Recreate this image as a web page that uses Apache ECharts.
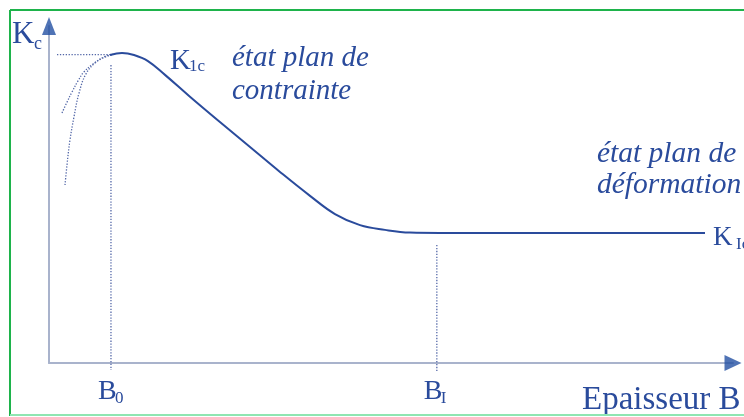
<!DOCTYPE html>
<html>
<head>
<meta charset="utf-8">
<script src="https://cdn.jsdelivr.net/npm/echarts@6/dist/echarts.min.js"></script>
<style>
  html, body { margin: 0; padding: 0; background: #ffffff; }
  #chart { width: 744px; height: 417px; }
</style>
</head>
<body>
<div id="chart"></div>
<script>
// Toughness K_c versus thickness B (arbitrary units on both axes)
const B_MAX = 100;
const K_MAX = 100;

// main solid curve: plane stress peak, decay, plane strain plateau
const bMain = [8.92, 10.67, 12.43, 14.47, 16.96, 20.61, 24.99, 29.39, 33.77, 38.16, 41.81, 45.47, 49.12, 52.78, 57.16, 62.0, 95.91];
const kMain = [91.4, 92.0, 91.4, 89.6, 85.5, 79.0, 71.5, 64.1, 56.7, 49.6, 44.2, 40.9, 39.5, 38.7, 38.6, 38.6, 38.6];

// dotted rising branches for very thin sheets
const bThinA = [1.9, 2.63, 3.36, 4.24, 5.12, 6.43, 7.89, 9.21];
const kThinA = [74.2, 77.4, 80.4, 83.7, 86.4, 88.7, 90.5, 91.5];
const bThinB = [2.34, 2.63, 3.07, 3.65, 4.39, 5.41, 6.87, 8.33, 9.36];
const kThinB = [52.8, 58.8, 66.2, 73.0, 80.1, 85.8, 89.3, 91.1, 91.7];

// reference levels
const B0 = 9.06;
const BI = 56.7;
const kPeakGuide = 91.5;
const guideB = [1.17, 9.2];
const b0Span = [88.4, -2.1];
const bISpan = [35.0, -2.7];

const tickValues = [B0, BI];
const tickSubs = ['0', 'I'];

const NAVY = '#2a4b9c';
const DOT = '#5468a8';
const SERIF = '"Liberation Serif", "DejaVu Serif", serif';

const zip = (xs, ys) => xs.map((x, i) => [x, ys[i]]);

const dotted = { color: DOT, width: 1.3, type: [1.3, 1.6] };

const chart = echarts.init(document.getElementById('chart'), null, { renderer: 'canvas' });

chart.setOption({
  animation: false,
  backgroundColor: '#ffffff',
  grid: { left: 49, right: 11, top: 26, bottom: 54, containLabel: false, outerBoundsMode: 'none' },
  xAxis: {
    type: 'value', min: 0, max: B_MAX,
    axisLine: { show: true, lineStyle: { color: '#a9b3cc', width: 2 } },
    axisTick: { show: false },
    splitLine: { show: false },
    axisLabel: { show: false }
  },
  yAxis: {
    type: 'value', min: 0, max: K_MAX,
    axisLine: { show: true, lineStyle: { color: '#a9b3cc', width: 2 } },
    axisTick: { show: false },
    splitLine: { show: false },
    axisLabel: { show: false }
  },
  series: [
    {
      type: 'line', data: zip(bMain, kMain), smooth: 0.4, symbol: 'none',
      lineStyle: { color: NAVY, width: 2 }, z: 5
    },
    {
      type: 'line', data: zip(bThinA, kThinA), smooth: 0.4, symbol: 'none',
      lineStyle: dotted
    },
    {
      type: 'line', data: zip(bThinB, kThinB), smooth: 0.4, symbol: 'none',
      lineStyle: dotted
    },
    {
      type: 'line', data: guideB.map(b => [b, kPeakGuide]), symbol: 'none',
      lineStyle: dotted
    },
    {
      type: 'line', data: b0Span.map(k => [B0, k]), symbol: 'none', clip: false,
      lineStyle: dotted
    },
    {
      type: 'line', data: bISpan.map(k => [BI, k]), symbol: 'none', clip: false,
      lineStyle: dotted
    },
    {
      // arrow heads at the axis ends
      type: 'scatter', clip: false, z: 10,
      data: [
        { value: [0, K_MAX], symbol: 'triangle', symbolSize: [14, 18], symbolRotate: 0 },
        { value: [B_MAX, 0], symbol: 'triangle', symbolSize: [16, 17], symbolRotate: -90 }
      ],
      itemStyle: { color: '#2350a3' },
      silent: true
    }
  ]
});

// Text annotations, positioned by their baseline
function txt(x, baseline, text, size, italic) {
  return {
    type: 'text', x: x, y: baseline - 0.70 * size, z: 20, silent: true,
    style: {
      text: text, fill: NAVY,
      font: (italic ? 'italic ' : '') + size + 'px ' + SERIF,
      lineHeight: size, verticalAlign: 'top'
    }
  };
}

const graphics = [
  // frame
  { type: 'line', shape: { x1: 10, y1: 10, x2: 744, y2: 10 }, style: { stroke: '#1eb34b', lineWidth: 2 }, z: 30 },
  { type: 'line', shape: { x1: 10, y1: 10, x2: 10, y2: 416 }, style: { stroke: '#1eb34b', lineWidth: 2 }, z: 30 },
  { type: 'line', shape: { x1: 10, y1: 415, x2: 744, y2: 415 }, style: { stroke: '#8fe6b2', lineWidth: 2 }, z: 30 },

  txt(12, 41, 'K', 31, false),
  txt(34, 48, 'c', 18, false),

  txt(170, 67, 'K', 29, false),
  txt(189, 70, '1c', 17, false),

  txt(232, 64, 'état plan de', 29, true),
  txt(232, 97, 'contrainte', 29, true),

  txt(597, 160, 'état plan de', 29.5, true),
  txt(597, 191, 'déformation', 29.5, true),

  txt(713, 243, 'K', 27, false),
  txt(736, 248, 'Ic', 17, false),

  txt(582, 407, 'Epaisseur B', 33, false)
];

// thickness markers placed at their scale positions
tickValues.forEach((v, i) => {
  const px = chart.convertToPixel({ gridIndex: 0 }, [v, 0])[0];
  graphics.push(txt(px - 13, 397, 'B', 28, false));
  graphics.push(txt(px + 4, 402, tickSubs[i], 17, false));
});

chart.setOption({ graphic: graphics });
</script>
</body>
</html>
